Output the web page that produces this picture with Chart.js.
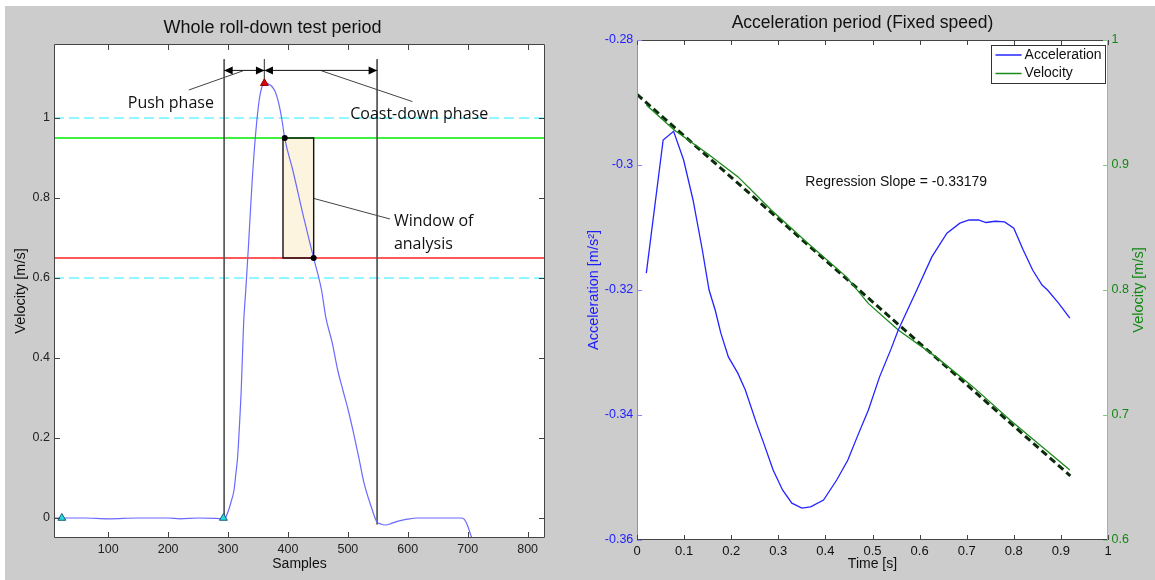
<!DOCTYPE html>
<html>
<head>
<meta charset="utf-8">
<script src="https://cdn.jsdelivr.net/npm/chart.js@4.4.1/dist/chart.umd.min.js"></script>
<style>
html,body{margin:0;padding:0;background:#fff;width:1155px;height:580px;overflow:hidden}
#bg{position:absolute;left:5px;top:6px;width:1150px;height:574px;background:#cccccc}
#c1{position:absolute;left:0;top:0}
#c2{position:absolute;left:570px;top:0}
</style>
</head>
<body>
<div id="bg"></div>
<canvas id="c1" width="570" height="580"></canvas>
<canvas id="c2" width="585" height="580"></canvas>
<script>
// ================= LEFT PANEL DATA =================
const leftTitle = 'Whole roll-down test period';
const sampleAxisRange = [9.5, 829];
const velocityAxisRange = [-0.05, 1.185];
const sampleTicks = [100, 200, 300, 400, 500, 600, 700, 800];
const velocityTicks = [0, 0.2, 0.4, 0.6, 0.8, 1];

const rollSamples = [10, 22.6, 60, 100, 150, 200, 220, 250, 280, 292,
  296, 301, 305, 310, 313, 316, 319, 322, 326, 329.6,
  334, 340, 346, 352, 357.7, 360.7, 366, 372.5, 378.6, 384.5,
  390, 394.6, 408, 426, 443, 456, 463, 474, 483, 491.6,
  500.5, 509.5, 518, 527, 539, 548, 555, 563, 572, 581,
  599, 616, 688, 694, 700, 706, 709];
const rollVelocity = [0, 0, 0, -0.002, 0, 0, -0.002, 0, -0.001, -0.002,
  0.002, 0.02, 0.04, 0.07, 0.11, 0.153, 0.23, 0.32, 0.487, 0.57,
  0.678, 0.837, 0.96, 1.045, 1.0825, 1.087, 1.086, 1.08, 1.066, 1.037,
  0.995, 0.949, 0.87, 0.753, 0.649, 0.57, 0.503, 0.437, 0.37, 0.32,
  0.27, 0.212, 0.153, 0.087, 0.028, -0.009, -0.015, -0.0175, -0.014, -0.009,
  -0.003, 0, 0, -0.003, -0.02, -0.047, -0.06];

const startSamples = [22.6, 292.3];
const startVelocity = [0, 0];
const peakSample = [360.7];
const peakVelocity = [1.087];

const toleranceLevels = [1.0, 0.6];      // cyan dashed
const windowUpperLevel = 0.95;           // green
const windowLowerLevel = 0.65;           // red

const phaseBoundSamples = [293.5, 360.7, 548.8];
const phaseBoundTop = [1.147, 1.147, 1.147];
const phaseBoundBottom = [0, 1.087, -0.016];
const arrowLevel = 1.119;
const pushArrow = [293.5, 360.7];
const coastArrow = [360.7, 548.8];

const windowSamples = [391.7, 442.9];
const windowVelocity = [0.65, 0.95];
const windowDotSamples = [394.6, 442.9];
const windowDotVelocity = [0.95, 0.65];

const pushLeaderX = [234.5, 325];
const pushLeaderY = [1.07, 1.118];
const coastLeaderX = [456, 607.7];
const coastLeaderY = [1.118, 1.041];
const windowLeaderX = [442.9, 570.2];
const windowLeaderY = [0.799, 0.7475];

const noteTexts = ['Push phase', 'Coast-down phase', 'Window of', 'analysis'];
const noteX = [204.5, 619, 576.8, 576.8];
const noteY = [1.037, 1.01, 0.7425, 0.684];
const noteAlign = ['center', 'center', 'left', 'left'];

// ================= RIGHT PANEL DATA =================
const rightTitle = 'Acceleration period (Fixed speed)';
const timeTicks = [0, 0.1, 0.2, 0.3, 0.4, 0.5, 0.6, 0.7, 0.8, 0.9, 1];
const accTicks = [-0.36, -0.34, -0.32, -0.3, -0.28];
const velRightTicks = [0.6, 0.7, 0.8, 0.9, 1];

const accTime = [0.0198, 0.0555, 0.0777, 0.099, 0.119, 0.1387, 0.153, 0.166, 0.178, 0.194,
  0.214, 0.23, 0.2536, 0.269, 0.289, 0.309, 0.3288, 0.35, 0.3685, 0.396,
  0.424, 0.4477, 0.4675, 0.4913, 0.515, 0.539, 0.5547, 0.594, 0.626, 0.658,
  0.6855, 0.705, 0.725, 0.741, 0.7607, 0.7805, 0.80, 0.82, 0.84, 0.86,
  0.8716, 0.895, 0.919];
const accValues = [-0.3173, -0.296, -0.2946, -0.2992, -0.3056, -0.3136, -0.32, -0.3232, -0.3269, -0.3307,
  -0.3333, -0.336, -0.3413, -0.3445, -0.3488, -0.352, -0.3541, -0.3549, -0.3547, -0.3536,
  -0.3504, -0.3472, -0.3435, -0.3392, -0.3339, -0.3295, -0.3264, -0.32, -0.3147, -0.3109,
  -0.3093, -0.3088, -0.3088, -0.3092, -0.309, -0.3091, -0.3101, -0.3136, -0.3168, -0.3192,
  -0.32, -0.3221, -0.3245];

const velTime = [0.0198, 0.079, 0.15, 0.214, 0.285, 0.364, 0.444, 0.491, 0.5547, 0.634, 0.713, 0.792, 0.919];
const velValues = [0.948, 0.928, 0.909, 0.8907, 0.864, 0.837, 0.8107, 0.7893, 0.768, 0.7467, 0.7227, 0.696, 0.656];

const regressionTime = [0, 0.92];
const regressionValues = [0.9565, 0.6513];
const slopeText = 'Regression Slope = -0.33179';
const slopeTextPos = [0.5503, 0.8866];

// ================= HELPERS =================
const F = '"Liberation Sans", Arial, Helvetica, sans-serif';
const NOTE_FONT = '16px "Open Sans", "Liberation Sans", sans-serif';
const pts = (xs, ys) => xs.map((x, i) => ({x: x, y: ys[i]}));
const lineDs = (data, color, width, extra) => Object.assign({
  data: data, showLine: true, borderColor: color, backgroundColor: color,
  borderWidth: width, pointRadius: 0, pointHoverRadius: 0, tension: 0
}, extra || {});

const whiteArea = {
  id: 'whiteArea',
  beforeDraw(chart) {
    const a = chart.chartArea, ctx = chart.ctx;
    ctx.save();
    ctx.fillStyle = '#ffffff';
    ctx.fillRect(a.left, a.top, a.right - a.left, a.bottom - a.top);
    ctx.restore();
  }
};

function drawInnerTicks(chart, specs, len) {
  const ctx = chart.ctx, a = chart.chartArea;
  ctx.save();
  ctx.lineWidth = 1;
  specs.forEach(s => {
    const sc = chart.scales[s.id];
    ctx.strokeStyle = s.color;
    ctx.beginPath();
    sc.ticks.forEach(t => {
      const p = Math.round(sc.getPixelForValue(t.value)) + 0.5;
      s.sides.forEach(side => {
        if (side === 'bottom') { ctx.moveTo(p, a.bottom); ctx.lineTo(p, a.bottom - len); }
        if (side === 'top') { ctx.moveTo(p, a.top); ctx.lineTo(p, a.top + len); }
        if (side === 'left') { ctx.moveTo(a.left, p); ctx.lineTo(a.left + len, p); }
        if (side === 'right') { ctx.moveTo(a.right, p); ctx.lineTo(a.right - len, p); }
      });
    });
    ctx.stroke();
  });
  ctx.restore();
}
function drawFrame(chart, colors) {
  const ctx = chart.ctx, a = chart.chartArea;
  const L = a.left + 0.5, R = a.right - 0.5, T = a.top + 0.5, B = a.bottom - 0.5;
  ctx.save();
  ctx.lineWidth = 1;
  const seg = (c, x1, y1, x2, y2) => { ctx.strokeStyle = c; ctx.beginPath(); ctx.moveTo(x1, y1); ctx.lineTo(x2, y2); ctx.stroke(); };
  seg(colors.top, L, T, R, T);
  seg(colors.bottom, L, B, R, B);
  seg(colors.left, L, T, L, B);
  seg(colors.right, R, T, R, B);
  ctx.restore();
}

// ================= LEFT CHART =================
const leftDecor = {
  id: 'leftDecor',
  beforeDatasetsDraw(chart) {
    const ctx = chart.ctx, xs = chart.scales.x, ys = chart.scales.y;
    const x0 = xs.getPixelForValue(windowSamples[0]), x1 = xs.getPixelForValue(windowSamples[1]);
    const y0 = ys.getPixelForValue(windowVelocity[1]), y1 = ys.getPixelForValue(windowVelocity[0]);
    ctx.save();
    ctx.fillStyle = '#fdf4df';
    ctx.fillRect(x0, y0, x1 - x0, y1 - y0);
    ctx.restore();
  },
  afterDatasetsDraw(chart) {
    const ctx = chart.ctx, xs = chart.scales.x, ys = chart.scales.y;
    ctx.save();
    const x0 = xs.getPixelForValue(windowSamples[0]), x1 = xs.getPixelForValue(windowSamples[1]);
    const y0 = ys.getPixelForValue(windowVelocity[1]), y1 = ys.getPixelForValue(windowVelocity[0]);
    ctx.strokeStyle = '#111';
    ctx.lineWidth = 1.4;
    ctx.strokeRect(x0, y0, x1 - x0, y1 - y0);
    ctx.fillStyle = '#000';
    windowDotSamples.forEach((s, i) => {
      ctx.beginPath();
      ctx.arc(xs.getPixelForValue(s), ys.getPixelForValue(windowDotVelocity[i]), 3, 0, Math.PI * 2);
      ctx.fill();
    });
    const yA = ys.getPixelForValue(arrowLevel);
    const head = (tip, dir) => {
      ctx.beginPath();
      ctx.moveTo(tip, yA);
      ctx.lineTo(tip - dir * 8.5, yA - 4);
      ctx.lineTo(tip - dir * 8.5, yA + 4);
      ctx.closePath();
      ctx.fill();
    };
    [pushArrow, coastArrow].forEach(ar => {
      head(xs.getPixelForValue(ar[0]), -1);
      head(xs.getPixelForValue(ar[1]), 1);
    });
    ctx.fillStyle = '#111';
    ctx.font = NOTE_FONT;
    ctx.textBaseline = 'middle';
    noteTexts.forEach((t, i) => {
      ctx.textAlign = noteAlign[i];
      ctx.fillText(t, xs.getPixelForValue(noteX[i]), ys.getPixelForValue(noteY[i]));
    });
    ctx.restore();
  },
  afterDraw(chart) {
    drawFrame(chart, {top: '#444', bottom: '#444', left: '#444', right: '#444'});
    drawInnerTicks(chart, [
      {id: 'x', color: '#444', sides: ['bottom', 'top']},
      {id: 'y', color: '#444', sides: ['left', 'right']}
    ], 6);
  }
};

const leftDatasets = [
  lineDs(pts(startSamples, startVelocity), '#1a4f80', 1, {showLine: false, pointRadius: 4.5, pointStyle: 'triangle', backgroundColor: '#22dddd', borderColor: '#1a5a7a', clip: false}),
  lineDs(pts(peakSample, peakVelocity), '#8a0000', 1, {showLine: false, pointRadius: 4.5, pointStyle: 'triangle', backgroundColor: '#e00000', borderColor: '#900000', clip: false}),
  lineDs(pts(rollSamples, rollVelocity), '#6a6aff', 1.2, {cubicInterpolationMode: 'monotone'}),
  lineDs(pts(pushArrow, [arrowLevel, arrowLevel]), '#111', 1),
  lineDs(pts(coastArrow, [arrowLevel, arrowLevel]), '#111', 1),
  lineDs(pts(pushLeaderX, pushLeaderY), '#444', 1),
  lineDs(pts(coastLeaderX, coastLeaderY), '#444', 1),
  lineDs(pts(windowLeaderX, windowLeaderY), '#444', 1)
].concat(phaseBoundSamples.map((s, i) => lineDs(pts([s, s], [phaseBoundTop[i], phaseBoundBottom[i]]), '#555', 1)))
 .concat([
  lineDs(pts(sampleAxisRange, [windowUpperLevel, windowUpperLevel]), '#00ee00', 1.6),
  lineDs(pts(sampleAxisRange, [windowLowerLevel, windowLowerLevel]), '#ff2020', 1.6)
 ])
 .concat(toleranceLevels.map(v => lineDs(pts(sampleAxisRange, [v, v]), '#22eeff', 1.2, {borderDash: [10, 5]})));

new Chart(document.getElementById('c1'), {
  type: 'scatter',
  data: {datasets: leftDatasets},
  options: {
    responsive: false, animation: false, events: [],
    layout: {padding: {left: 0, right: 25, top: 0, bottom: 0}},
    plugins: {
      legend: {display: false}, tooltip: {enabled: false},
      title: {display: true, text: leftTitle, color: '#111',
        font: {family: F, size: 18, weight: 'normal', lineHeight: 1.2},
        padding: {top: 17, bottom: 5.4}}
    },
    scales: {
      x: {
        type: 'linear', min: sampleAxisRange[0], max: sampleAxisRange[1],
        grid: {display: false, drawTicks: false}, border: {display: false},
        afterBuildTicks: s => { s.ticks = sampleTicks.map(v => ({value: v})); },
        afterFit: s => { s.height = 42; },
        ticks: {color: '#222', font: {family: F, size: 12.5}, padding: 4, maxRotation: 0, autoSkip: false, callback: v => String(v)},
        title: {display: true, text: 'Samples', color: '#111', font: {family: F, size: 14}, padding: {top: 0, bottom: 7.6}}
      },
      y: {
        type: 'linear', min: velocityAxisRange[0], max: velocityAxisRange[1],
        grid: {display: false, drawTicks: false}, border: {display: false},
        afterBuildTicks: s => { s.ticks = velocityTicks.map(v => ({value: v})); },
        afterFit: s => { s.width = 54; },
        ticks: {color: '#222', font: {family: F, size: 12.5}, padding: 4, autoSkip: false, callback: v => String(v)},
        title: {display: true, text: 'Velocity [m/s]', color: '#111', font: {family: F, size: 14.5}, padding: {top: 12.1, bottom: 0}}
      }
    }
  },
  plugins: [whiteArea, leftDecor]
});

// ================= RIGHT CHART =================
const rightDecor = {
  id: 'rightDecor',
  afterDatasetsDraw(chart) {
    const ctx = chart.ctx, a = chart.chartArea, xs = chart.scales.x, y2 = chart.scales.y2;
    ctx.save();
    ctx.fillStyle = '#111';
    ctx.font = '14px ' + F;
    ctx.textAlign = 'center';
    ctx.textBaseline = 'middle';
    ctx.fillText(slopeText, xs.getPixelForValue(slopeTextPos[0]), y2.getPixelForValue(slopeTextPos[1]));
    const bx = a.right - 117, by = a.top + 5, bw = 114, bh = 38;
    ctx.fillStyle = '#fff';
    ctx.fillRect(bx, by, bw, bh);
    ctx.strokeStyle = '#333';
    ctx.lineWidth = 1;
    ctx.strokeRect(Math.round(bx) + 0.5, Math.round(by) + 0.5, bw, bh);
    const ds = chart.data.datasets;
    [0, 1].forEach((k, i) => {
      const yy = by + 10 + i * 18.5;
      ctx.strokeStyle = ds[k].borderColor;
      ctx.lineWidth = 1.5;
      ctx.beginPath(); ctx.moveTo(bx + 4.5, yy); ctx.lineTo(bx + 30.6, yy); ctx.stroke();
      ctx.fillStyle = '#111';
      ctx.textAlign = 'left';
      ctx.fillText(ds[k].label, bx + 33.6, yy);
    });
    ctx.restore();
  },
  afterDraw(chart) {
    const ctx = chart.ctx, a = chart.chartArea;
    drawFrame(chart, {top: '#444', bottom: '#444', left: '#8585ff', right: '#85c885'});
    drawInnerTicks(chart, [
      {id: 'x', color: '#444', sides: ['bottom', 'top']},
      {id: 'y', color: '#8585ff', sides: ['left']},
      {id: 'y2', color: '#85c885', sides: ['right']}
    ], 5);
    ctx.save();
    ctx.translate(a.right + 31, (a.top + a.bottom) / 2);
    ctx.rotate(-Math.PI / 2);
    ctx.fillStyle = '#118811';
    ctx.font = '14.5px ' + F;
    ctx.textAlign = 'center';
    ctx.textBaseline = 'middle';
    ctx.fillText('Velocity [m/s]', 0, 0);
    ctx.restore();
  }
};

new Chart(document.getElementById('c2'), {
  type: 'scatter',
  data: {datasets: [
    lineDs(pts(accTime, accValues), '#2424ff', 1.3, {label: 'Acceleration', yAxisID: 'y'}),
    lineDs(pts(velTime, velValues), '#1a8a1a', 1.3, {label: 'Velocity', yAxisID: 'y2'}),
    lineDs(pts(regressionTime, regressionValues), '#0c2a0c', 3, {label: 'Regression', yAxisID: 'y2', borderDash: [7, 4]})
  ]},
  options: {
    responsive: false, animation: false, events: [],
    layout: {padding: 0},
    plugins: {
      legend: {display: false}, tooltip: {enabled: false},
      title: {display: true, text: rightTitle, color: '#111',
        font: {family: F, size: 17.5, weight: 'normal', lineHeight: 1.2},
        padding: {top: 12.8, bottom: 6.2}}
    },
    scales: {
      x: {
        type: 'linear', min: 0, max: 1,
        grid: {display: false, drawTicks: false}, border: {display: false},
        afterBuildTicks: s => { s.ticks = timeTicks.map(v => ({value: v})); },
        afterFit: s => { s.height = 40; },
        ticks: {color: '#111', font: {family: F, size: 13}, padding: 4, maxRotation: 0, autoSkip: false, callback: v => String(v)},
        title: {display: true, text: 'Time [s]', color: '#111', font: {family: F, size: 14}, padding: {top: 0, bottom: 7.6}}
      },
      y: {
        type: 'linear', position: 'left', min: -0.36, max: -0.28,
        grid: {display: false, drawTicks: false}, border: {display: false},
        afterBuildTicks: s => { s.ticks = accTicks.map(v => ({value: v})); },
        afterFit: s => { s.width = 67; },
        ticks: {color: '#2020ff', font: {family: F, size: 12.5}, padding: 3.7, autoSkip: false, callback: v => String(v)},
        title: {display: true, text: 'Acceleration [m/s²]', color: '#2020ff', font: {family: F, size: 14.5}, padding: {top: 14.8, bottom: 0}}
      },
      y2: {
        type: 'linear', position: 'right', min: 0.6, max: 1,
        grid: {display: false, drawTicks: false}, border: {display: false},
        afterBuildTicks: s => { s.ticks = velRightTicks.map(v => ({value: v})); },
        afterFit: s => { s.width = 47; },
        ticks: {color: '#118811', font: {family: F, size: 12.5}, padding: 3.5, autoSkip: false, callback: v => String(v)},
        title: {display: false}
      }
    }
  },
  plugins: [whiteArea, rightDecor]
});
</script>
</body>
</html>
